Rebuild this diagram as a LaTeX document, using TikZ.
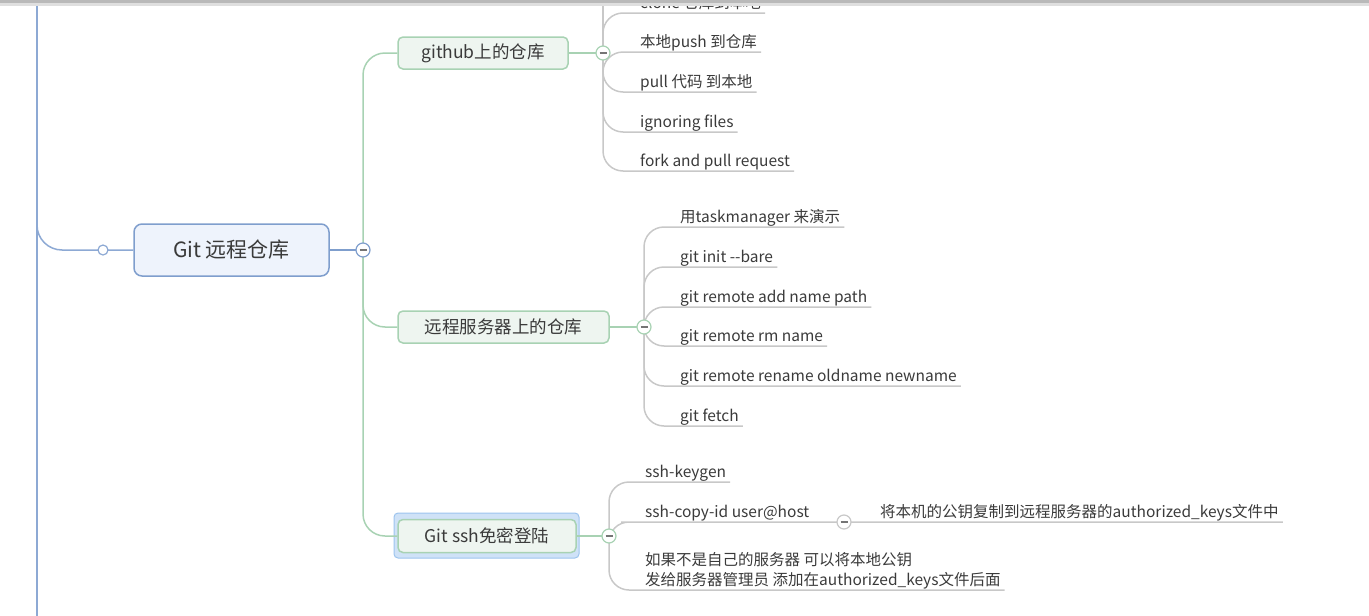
\documentclass[tikz,border=0pt]{standalone}
\usepackage{fontspec}
\setmainfont{Noto Sans CJK SC}
\usepackage{tikz}

\definecolor{rootblue}{HTML}{8DA9D4}
\definecolor{mainfill}{HTML}{EEF3FC}
\definecolor{mainline}{HTML}{7F9ECD}
\definecolor{grnline}{HTML}{A8D2B3}
\definecolor{grnfill}{HTML}{EEF5F0}
\definecolor{greyline}{HTML}{C8C8C8}
\definecolor{txt}{HTML}{3A3A3A}
\definecolor{selfill}{HTML}{CFE2F7}
\definecolor{selline}{HTML}{9DC4EE}

\begin{document}
\begin{tikzpicture}[x=1pt, y=-1pt,
	mainbox/.style={draw=mainline, line width=1.5, fill=mainfill, rounded corners=8, minimum width=195, minimum height=52, text=txt, font=\fontsize{21}{24}\selectfont},
	topic/.style={draw=grnline, line width=1.5, fill=grnfill, rounded corners=5, minimum height=32, text=txt, font=\fontsize{17.5}{20}\selectfont},
	leaf/.style={anchor=south west, inner xsep=4, inner ysep=1.5, text height=12, text depth=2.5, text=txt, font=\fontsize{15.5}{20}\selectfont},
	fold/.style={circle, draw, fill=white, minimum size=14, inner sep=0, line width=1.2,
		path picture={\draw[line width=1.5, txt!70] ([xshift=-3.5pt]path picture bounding box.center) -- ([xshift=3.5pt]path picture bounding box.center);}},
	rootln/.style={draw=rootblue, line width=1.5, rounded corners=25},
	grn/.style={draw=grnline, line width=1.5, rounded corners=22},
	gry/.style={draw=greyline, line width=1.5, rounded corners=20}]
	
	\useasboundingbox (0,0) rectangle (1369,616);
	\clip (0,0) rectangle (1369,616);
	
	% main topic and sub topics
	\node[mainbox] (main) at (231.5,250) {Git 远程仓库};
	\node[topic, minimum width=170] (git1) at (483,53) {github上的仓库};
	\node[topic, minimum width=211] (git2) at (503.5,327) {远程服务器上的仓库};
	\draw[draw=selline, fill=selfill, line width=1, rounded corners=4] (394,513) rectangle (579,558);
	\node[topic, minimum width=178, minimum height=33] (git3) at (487,536) {Git ssh免密登陆};
	
	% leaves of github
	\node[leaf] (clone) at (636,13) {clone 仓库到本地};
	\node[leaf] (push) at (636,52) {本地push 到仓库};
	\node[leaf] (pull) at (636,92) {pull 代码 到本地};
	\node[leaf] (ignore) at (636,132) {ignoring files};
	\node[leaf] (fork) at (636,171) {fork and pull request};
	
	% leaves of remote server
	\node[leaf] (demo) at (676,227) {用taskmanager 来演示};
	\node[leaf] (init) at (676,267) {git init {-}{-}bare};
	\node[leaf] (radd) at (676,307) {git remote add name path};
	\node[leaf] (rrm) at (676,346) {git remote rm name};
	\node[leaf] (rren) at (676,386) {git remote rename oldname newname};
	\node[leaf] (fetch) at (676,426) {git fetch};
	
	% leaves of ssh
	\node[leaf] (keygen) at (641,482) {ssh-keygen};
	\node[leaf] (copyid) at (641,522) {ssh-copy-id user@host};
	\node[leaf] (pubkey) at (876,522) {将本机的公钥复制到远程服务器的authorized\_keys文件中};
	\node[leaf, text height=32, align=left] (admin) at (641,590) {如果不是自己的服务器 可以将本地公钥\\发给服务器管理员 添加在authorized\_keys文件后面};
	
	\coordinate (rtop) at (37,-20);
	\coordinate (rbot) at (37,640);
	\coordinate (mc) at (363,250);
	\coordinate (g1c) at (603,53);
	\coordinate (g1top) at (603,-40);
	\coordinate (g2c) at (644,327);
	\coordinate (g3c) at (609,536);
	\coordinate (g3d) at (844,522);
	
	% connectors
	\draw[rootln] (rtop) -- (rbot);
	\draw[rootln] (rtop) |- (main.west);
	\draw[draw=mainline, line width=1.5] (main.east) -- (mc);
	\draw[grn] (mc) |- (git1.west);
	\draw[grn] (mc) |- (git2.west);
	\draw[grn] (mc) |- (git3.west);
	\draw[grn] (git1.east) -- (g1c);
	\draw[grn] (git2.east) -- (g2c);
	\draw[grn] (git3.east) -- (g3c);
	
	\draw[gry] (g1c) -- (g1top);
	\draw[gry] (g1c) |- (clone.south east);
	\draw[gry] (g1c) |- (push.south east);
	\draw[gry] (g1c) |- (pull.south east);
	\draw[gry] (g1c) |- (ignore.south east);
	\draw[gry] (g1c) |- (fork.south east);
	
	\draw[gry] (g2c) |- (demo.south east);
	\draw[gry] (g2c) |- (init.south east);
	\draw[gry] (g2c) |- (radd.south east);
	\draw[gry] (g2c) |- (rrm.south east);
	\draw[gry] (g2c) |- (rren.south east);
	\draw[gry] (g2c) |- (fetch.south east);
	
	\draw[gry] (g3c) |- (keygen.south east);
	\draw[gry] (g3c) |- (copyid.south west) -- (g3d) -- (pubkey.south east);
	\draw[gry] (g3c) |- (admin.south east);
	
	% fold buttons
	\node[circle, draw=rootblue, fill=white, line width=1.2, minimum size=10, inner sep=0] (knob) at (103,250) {};
	\node[fold, draw=mainline] at (mc) {};
	\node[fold, draw=grnline] at (g1c) {};
	\node[fold, draw=grnline] at (g2c) {};
	\node[fold, draw=grnline] at (g3c) {};
	\node[fold, draw=greyline] at (g3d) {};
	
	% window edge
	\fill[gray!55] (0,0) rectangle (1369,3);
	\fill[gray!25] (0,3) rectangle (1369,6);
\end{tikzpicture}
\end{document}
